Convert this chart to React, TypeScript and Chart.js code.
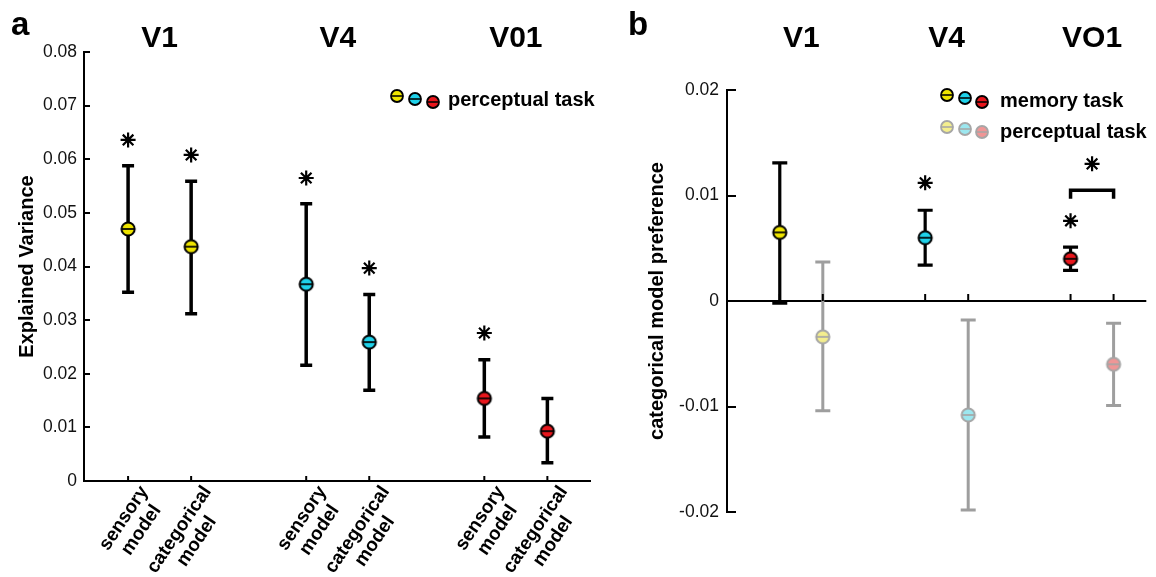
import React, { useEffect, useRef } from 'react';
import { Chart, registerables } from 'chart.js';

Chart.register(...registerables);

const FONT = '"Liberation Sans", Arial, Helvetica, sans-serif';

// ---------- Panel a data ----------
const regionsA = ['V1', 'V4', 'V01'];
const sensoryLabel = ['sensory', 'model'];
const categoricalLabel = ['categorical', 'model'];
const sensoryMean = [0.047, 0.0367, 0.0154];
const sensoryLow = [0.0352, 0.0216, 0.0082];
const sensoryHigh = [0.0588, 0.0517, 0.0226];
const sensoryStar = [0.0636, 0.0565, 0.0276];
const categoricalMean = [0.0437, 0.0259, 0.0093];
const categoricalLow = [0.0312, 0.0169, 0.0034];
const categoricalHigh = [0.0559, 0.0348, 0.0154];
const categoricalStar = [0.0608, 0.0397, null];
const yMinA = 0;
const yMaxA = 0.08;
const yStepA = 0.01;

// ---------- Panel b data ----------
const regionsB = ['V1', 'V4', 'VO1'];
const memoryMean = [0.0065, 0.006, 0.004];
const memoryLow = [-0.0002, 0.0034, 0.0029];
const memoryHigh = [0.0131, 0.0086, 0.0051];
const memoryStar = [null, 0.0112, 0.0076];
const perceptualMean = [-0.0034, -0.0108, -0.006];
const perceptualLow = [-0.0104, -0.0198, -0.0099];
const perceptualHigh = [0.0037, -0.0018, -0.0021];
const differenceStar = [null, null, 0.013];
const bracketTop = [null, null, 0.0105];
const bracketLegEnd = [null, null, 0.0097];
const yMinB = -0.02;
const yMaxB = 0.02;
const yStepB = 0.01;

// ---------- styles ----------
const solidColors = ['#eee400', '#1fd2ea', '#e8161c'];
const fadedColors = ['#f4ee8e', '#9ce7ef', '#f09696'];
const PAIR_A = 0.177;
const PAIR_B = 0.148;
const ROT = (56 * Math.PI) / 180;

function makeMarker(fill: string, stroke: string, r: number, lw: number) {
  const size = Math.ceil(2 * r + lw + 2);
  const c = document.createElement('canvas');
  c.width = size;
  c.height = size;
  const ctx = c.getContext('2d')!;
  const m = size / 2;
  ctx.beginPath();
  ctx.arc(m, m, r, 0, Math.PI * 2);
  ctx.fillStyle = fill;
  ctx.fill();
  ctx.beginPath();
  ctx.moveTo(m - r, m);
  ctx.lineTo(m + r, m);
  ctx.strokeStyle = stroke;
  ctx.lineWidth = lw * 0.85;
  ctx.stroke();
  ctx.beginPath();
  ctx.arc(m, m, r, 0, Math.PI * 2);
  ctx.lineWidth = lw;
  ctx.stroke();
  return c;
}

const errorBarPlugin = {
  id: 'errorBars',
  beforeDatasetsDraw(chart: any) {
    const { ctx } = chart;
    const ys = chart.scales.y;
    chart.data.datasets.forEach((ds: any, di: number) => {
      if (!ds.errLow) return;
      const meta = chart.getDatasetMeta(di);
      meta.data.forEach((pt: any, i: number) => {
        const x = pt.x;
        const lo = ys.getPixelForValue(ds.errLow[i]);
        const hi = ys.getPixelForValue(ds.errHigh[i]);
        const cap = ds.errCap;
        ctx.save();
        ctx.strokeStyle = ds.errColor;
        ctx.lineWidth = ds.errWidth;
        ctx.beginPath();
        ctx.moveTo(x, lo);
        ctx.lineTo(x, hi);
        ctx.moveTo(x - cap, lo);
        ctx.lineTo(x + cap, lo);
        ctx.moveTo(x - cap, hi);
        ctx.lineTo(x + cap, hi);
        ctx.stroke();
        ctx.restore();
      });
    });
  },
};

const inwardTicksPlugin = {
  id: 'inwardTicks',
  afterDatasetsDraw(chart: any, _args: any, opts: any) {
    const { ctx, chartArea } = chart;
    const ys = chart.scales.y;
    ctx.save();
    ctx.strokeStyle = '#000';
    ctx.lineWidth = 2;
    ctx.beginPath();
    ys.ticks.forEach((t: any) => {
      const y = Math.round(ys.getPixelForValue(t.value));
      ctx.moveTo(chartArea.left, y);
      ctx.lineTo(chartArea.left + opts.yLen, y);
    });
    const baseY = opts.atZero ? ys.getPixelForValue(0) : chartArea.bottom;
    chart.data.datasets.forEach((ds: any, di: number) => {
      if (!ds.xTick) return;
      chart.getDatasetMeta(di).data.forEach((pt: any) => {
        ctx.moveTo(pt.x, baseY);
        ctx.lineTo(pt.x, baseY - opts.xLen);
      });
    });
    ctx.stroke();
    ctx.restore();
  },
};

function drawLegendRow(ctx: any, pos: number[][], markers: any[], text: string, tx: number, ty: number) {
  pos.forEach((p, i) => {
    const m = markers[i];
    ctx.drawImage(m, p[0] - m.width / 2, p[1] - m.height / 2);
  });
  ctx.fillStyle = '#000';
  ctx.font = `bold 20px ${FONT}`;
  ctx.textAlign = 'left';
  ctx.textBaseline = 'alphabetic';
  ctx.fillText(text, tx, ty);
}

function configA(): any {
  const big = solidColors.map((c) => makeMarker(c, '#000', 6.6, 2));
  const small = solidColors.map((c) => makeMarker(c, '#000', 6, 1.8));
  const xOf = (g: number, m: number) => g + (m === 0 ? -PAIR_A : PAIR_A);
  const stars: any[] = [];
  sensoryStar.forEach((v, g) => { if (v != null) stars.push({ x: xOf(g, 0), y: v }); });
  categoricalStar.forEach((v, g) => { if (v != null) stars.push({ x: xOf(g, 1), y: v }); });

  const annot = {
    id: 'annotA',
    afterDraw(chart: any) {
      const { ctx, chartArea } = chart;
      const xs = chart.scales.x;
      ctx.save();
      ctx.fillStyle = '#000';
      ctx.font = `bold 33px ${FONT}`;
      ctx.textAlign = 'left';
      ctx.textBaseline = 'alphabetic';
      ctx.fillText('a', 11, 35);
      ctx.font = `bold 30px ${FONT}`;
      ctx.textAlign = 'center';
      regionsA.forEach((r, g) => ctx.fillText(r, xs.getPixelForValue(g), 47));
      drawLegendRow(ctx, [[397, 96], [415, 99], [433, 102]], small, 'perceptual task', 448, 106);
      // rotated x labels
      ctx.font = `bold 19px ${FONT}`;
      chart.data.datasets.forEach((ds: any, di: number) => {
        if (!ds.tickLabel) return;
        const lines: string[] = ds.tickLabel;
        const W = Math.max(...lines.map((l) => ctx.measureText(l).width));
        chart.getDatasetMeta(di).data.forEach((pt: any) => {
          ctx.save();
          ctx.translate(pt.x + 25, chartArea.bottom + 13);
          ctx.rotate(-ROT);
          ctx.textAlign = 'center';
          ctx.textBaseline = 'middle';
          lines.forEach((l, j) => ctx.fillText(l, -W / 2, (j - (lines.length - 1) / 2) * 21));
          ctx.restore();
        });
      });
      ctx.restore();
    },
  };

  return {
    type: 'scatter',
    data: {
      datasets: [
        {
          label: 'sensory model',
          data: sensoryMean.map((v, g) => ({ x: xOf(g, 0), y: v })),
          pointStyle: big,
          pointRadius: 7,
          errLow: sensoryLow,
          errHigh: sensoryHigh,
          errColor: '#000',
          errWidth: 3.5,
          errCap: 6,
          xTick: true,
          tickLabel: sensoryLabel,
        },
        {
          label: 'categorical model',
          data: categoricalMean.map((v, g) => ({ x: xOf(g, 1), y: v })),
          pointStyle: big,
          pointRadius: 7,
          errLow: categoricalLow,
          errHigh: categoricalHigh,
          errColor: '#000',
          errWidth: 3.5,
          errCap: 6,
          xTick: true,
          tickLabel: categoricalLabel,
        },
        {
          label: 'significance',
          data: stars,
          pointStyle: 'star',
          pointRadius: 7.5,
          borderColor: '#000',
          backgroundColor: '#000',
          borderWidth: 2.2,
        },
      ],
    },
    options: {
      responsive: false,
      animation: false,
      events: [],
      layout: { padding: { left: 0, top: 52, right: 2, bottom: 0 } },
      plugins: {
        legend: { display: false },
        tooltip: { enabled: false },
        inwardTicks: { yLen: 6, xLen: 5, atZero: false },
      },
      scales: {
        x: {
          type: 'linear',
          min: -0.4245,
          max: 2.418,
          ticks: { display: false },
          grid: { drawOnChartArea: false, drawTicks: false },
          border: { display: true, color: '#000', width: 2 },
          afterFit: (s: any) => { s.height = 96; },
        },
        y: {
          min: yMinA,
          max: yMaxA,
          ticks: {
            stepSize: yStepA,
            padding: 7,
            color: '#111',
            font: { family: FONT, size: 17.5 },
            callback: (v: number) => (Math.abs(v) < 1e-9 ? '0' : v.toFixed(2)),
          },
          grid: { drawOnChartArea: false, drawTicks: false },
          border: { display: true, color: '#000', width: 2 },
          title: {
            display: true,
            text: 'Explained Variance',
            color: '#000',
            font: { family: FONT, size: 20, weight: 'bold' },
            padding: { top: 15.5, bottom: 0 },
          },
          afterFit: (s: any) => { s.width = 84; },
        },
      },
    },
    plugins: [errorBarPlugin, inwardTicksPlugin, annot],
  };
}

function configB(): any {
  const big = solidColors.map((c) => makeMarker(c, '#000', 6.6, 2));
  const bigFaded = fadedColors.map((c) => makeMarker(c, '#a6a6a6', 6.6, 2));
  const small = solidColors.map((c) => makeMarker(c, '#000', 6, 1.8));
  const smallFaded = fadedColors.map((c) => makeMarker(c, '#a6a6a6', 6, 1.8));
  const xOf = (g: number, m: number) => g + (m === 0 ? -PAIR_B : PAIR_B);
  const stars: any[] = [];
  memoryStar.forEach((v, g) => { if (v != null) stars.push({ x: xOf(g, 0), y: v }); });
  differenceStar.forEach((v, g) => { if (v != null) stars.push({ x: g, y: v }); });

  const annot = {
    id: 'annotB',
    afterDraw(chart: any) {
      const { ctx } = chart;
      const xs = chart.scales.x;
      const ys = chart.scales.y;
      ctx.save();
      ctx.fillStyle = '#000';
      ctx.font = `bold 33px ${FONT}`;
      ctx.textAlign = 'left';
      ctx.textBaseline = 'alphabetic';
      ctx.fillText('b', 28, 35);
      ctx.font = `bold 30px ${FONT}`;
      ctx.textAlign = 'center';
      regionsB.forEach((r, g) => ctx.fillText(r, xs.getPixelForValue(g), 47));
      drawLegendRow(ctx, [[347, 95], [365, 98], [382, 102]], small, 'memory task', 400, 106.5);
      drawLegendRow(ctx, [[347, 127], [365, 129], [382, 132]], smallFaded, 'perceptual task', 400, 137.5);
      // significance bracket
      ctx.strokeStyle = '#000';
      ctx.lineWidth = 3.5;
      bracketTop.forEach((v, g) => {
        if (v == null) return;
        const x1 = xs.getPixelForValue(xOf(g, 0));
        const x2 = xs.getPixelForValue(xOf(g, 1));
        const yt = ys.getPixelForValue(v);
        const yb = ys.getPixelForValue(bracketLegEnd[g] as number);
        ctx.beginPath();
        ctx.moveTo(x1, yb);
        ctx.lineTo(x1, yt);
        ctx.lineTo(x2, yt);
        ctx.lineTo(x2, yb);
        ctx.stroke();
      });
      ctx.restore();
    },
  };

  return {
    type: 'scatter',
    data: {
      datasets: [
        {
          label: 'perceptual task',
          data: perceptualMean.map((v, g) => ({ x: xOf(g, 1), y: v })),
          pointStyle: bigFaded,
          pointRadius: 7,
          errLow: perceptualLow,
          errHigh: perceptualHigh,
          errColor: '#9e9e9e',
          errWidth: 3,
          errCap: 7.5,
          xTick: true,
        },
        {
          label: 'memory task',
          data: memoryMean.map((v, g) => ({ x: xOf(g, 0), y: v })),
          pointStyle: big,
          pointRadius: 7,
          errLow: memoryLow,
          errHigh: memoryHigh,
          errColor: '#000',
          errWidth: 3.2,
          errCap: 7.5,
          xTick: true,
        },
        {
          label: 'significance',
          data: stars,
          pointStyle: 'star',
          pointRadius: 7.5,
          borderColor: '#000',
          backgroundColor: '#000',
          borderWidth: 2.2,
        },
      ],
    },
    options: {
      responsive: false,
      animation: false,
      events: [],
      layout: { padding: { left: 0, top: 90, right: 0, bottom: 65 } },
      plugins: {
        legend: { display: false },
        tooltip: { enabled: false },
        inwardTicks: { yLen: 9, xLen: 7, atZero: true },
      },
      scales: {
        x: {
          type: 'linear',
          display: false,
          min: -0.511,
          max: 2.373,
        },
        y: {
          min: yMinB,
          max: yMaxB,
          ticks: {
            stepSize: yStepB,
            padding: 8,
            color: '#111',
            font: { family: FONT, size: 17.5 },
            callback: (v: number) => (Math.abs(v) < 1e-9 ? '0' : v.toFixed(2)),
          },
          grid: {
            drawOnChartArea: true,
            drawTicks: false,
            lineWidth: 2,
            color: (c: any) => (c.tick && Math.abs(c.tick.value) < 1e-9 ? '#000' : 'rgba(0,0,0,0)'),
          },
          border: { display: true, color: '#000', width: 2 },
          title: {
            display: true,
            text: 'categorical model preference',
            color: '#000',
            font: { family: FONT, size: 20, weight: 'bold' },
            padding: { top: 45, bottom: 0 },
          },
          afterFit: (s: any) => { s.width = 127; },
        },
      },
    },
    plugins: [errorBarPlugin, inwardTicksPlugin, annot],
  };
}

export default function App() {
  const refA = useRef<HTMLCanvasElement>(null);
  const refB = useRef<HTMLCanvasElement>(null);
  useEffect(() => {
    const a = new Chart(refA.current as HTMLCanvasElement, configA());
    const b = new Chart(refB.current as HTMLCanvasElement, configB());
    return () => {
      a.destroy();
      b.destroy();
    };
  }, []);
  return (
    <div style={{ position: 'fixed', left: 0, top: 0, width: 1156, height: 577, background: '#fff' }}>
      <canvas ref={refA} width={600} height={577} style={{ position: 'absolute', left: 0, top: 0 }} />
      <canvas ref={refB} width={556} height={577} style={{ position: 'absolute', left: 600, top: 0 }} />
    </div>
  );
}
